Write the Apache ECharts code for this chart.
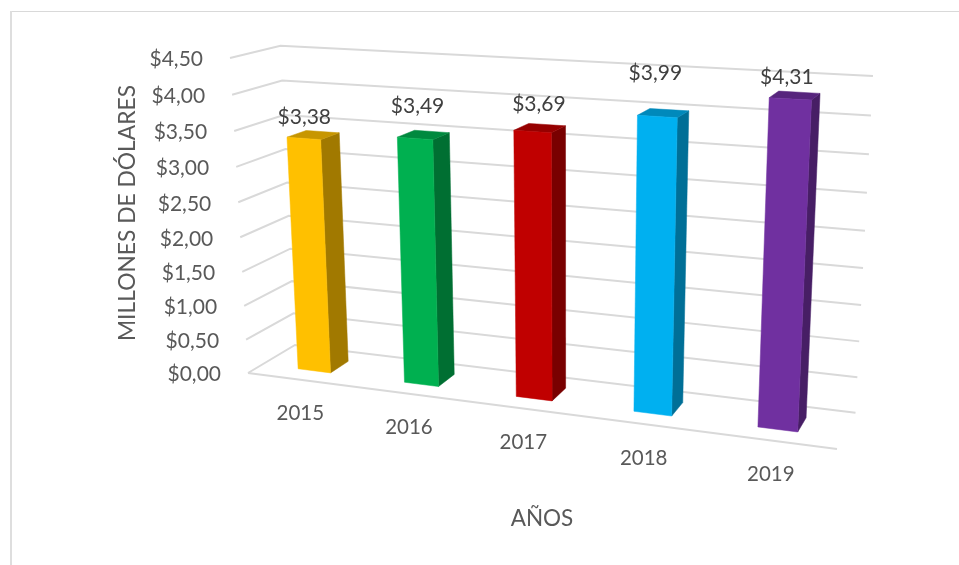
<!DOCTYPE html>
<html><head><meta charset="utf-8"><style>html,body{margin:0;padding:0;background:#fff}#c{width:959px;height:565px}</style>
<script src="https://cdn.jsdelivr.net/npm/echarts@6/dist/echarts.min.js"></script></head>
<body><div id="c"></div>
<script>
const years = ['2015','2016','2017','2018','2019'];
const values = [3.38,3.49,3.69,3.99,4.31];
const valueLabels = ['$3,38','$3,49','$3,69','$3,99','$4,31'];
const barColors = ['#FFC000','#00B050','#C00000','#00B0F0','#7030A0'];
const ticks = [0,0.5,1,1.5,2,2.5,3,3.5,4,4.5];
const tickLabels = ['$0,00','$0,50','$1,00','$1,50','$2,00','$2,50','$3,00','$3,50','$4,00','$4,50'];

// Camera: screen position of the corners of the 3D plot box
const A=[248,373],B=[837,449],C=[295,345],D=[855,413],E=[230,58],F=[280,45],G=[873,76];
function solveCamera(){
  const rows=[],rhs=[];
  for(let k=0;k<2;k++){
    rows.push([0,E[k]-F[k],C[k]-F[k]]);rhs.push(A[k]-F[k]);
    rows.push([B[k]-D[k],0,C[k]-D[k]]);rhs.push(A[k]-D[k]);
    rows.push([B[k]-G[k],E[k]-G[k],C[k]-G[k]]);rhs.push(2*A[k]-2*G[k]);
  }
  const M=[[0,0,0,0],[0,0,0,0],[0,0,0,0]];
  rows.forEach((r,n)=>{for(let i=0;i<3;i++){for(let j=0;j<3;j++)M[i][j]+=r[i]*r[j];M[i][3]+=r[i]*rhs[n];}});
  for(let i=0;i<3;i++){
    let p=i;for(let r=i+1;r<3;r++)if(Math.abs(M[r][i])>Math.abs(M[p][i]))p=r;
    [M[i],M[p]]=[M[p],M[i]];
    for(let r=0;r<3;r++)if(r!==i){const f=M[r][i]/M[i][i];for(let c=i;c<4;c++)M[r][c]-=f*M[i][c];}
  }
  return [M[0][3]/M[0][0],M[1][3]/M[1][1],M[2][3]/M[2][2]];
}
const [al,be,ga]=solveCamera();
function proj(x,y,z){
  const w=1+x*(al-1)+y*(be-1)+z*(ga-1);
  return [0,1].map(k=>(A[k]+x*(al*B[k]-A[k])+y*(be*E[k]-A[k])+z*(ga*C[k]-A[k]))/w);
}
const BAR_W=0.31, Z_FRONT=0.30, Z_BACK=0.70;
const labelShift=[[-9,-4],[-6,-15],[-1,-10],[-8,-26],[-8,-4]];
const FONT='Lato, "Open Sans", sans-serif';

function shade(hex,f){
  const n=parseInt(hex.slice(1),16);
  return 'rgb('+[n>>16,(n>>8)&255,n&255].map(c=>Math.round(c*f)).join(',')+')';
}
function norm(params,pt){
  const s=params.coordSys;
  return [(pt[0]-s.x)/s.width,(s.y+s.height-pt[1])/s.height];
}
function poly(points,fill){
  return {type:'polygon',shape:{points},style:{fill,stroke:fill,lineWidth:0.5}};
}
function renderGrid(params,api){
  const v=api.value(1);
  const y=norm(params,api.coord([0,v]))[1];
  const children=[{type:'polyline',shape:{points:[proj(0,y,0),proj(0,y,1),proj(1,y,1)]},
    style:{stroke:'#d9d9d9',lineWidth:2,fill:null}}];
  if(v===0)children.push({type:'line',shape:{x1:A[0],y1:A[1],x2:B[0],y2:B[1]},style:{stroke:'#d9d9d9',lineWidth:2}});
  const p=proj(0,y,0);
  children.push({type:'text',style:{x:p[0]-27,y:p[1]+1.5,text:tickLabels[params.dataIndex],fill:'#595959',
    font:'21px '+FONT,align:'right',verticalAlign:'middle'}});
  return {type:'group',children};
}
function renderBars(params,api){
  const i=params.dataIndex,col=barColors[i];
  const c=api.coord([api.value(0),api.value(1)]);
  const band=api.size([1,0])[0]*BAR_W;
  const x0=norm(params,[c[0]-band/2,0])[0],x1=norm(params,[c[0]+band/2,0])[0];
  const y=norm(params,c)[1];
  const f=(x,yy,z)=>proj(x,yy,z);
  const top=f((x0+x1)/2,y,(Z_FRONT+Z_BACK)/2);
  return {type:'group',children:[
    poly([f(x1,0,Z_FRONT),f(x1,0,Z_BACK),f(x1,y,Z_BACK),f(x1,y,Z_FRONT)],shade(col,0.63)),
    poly([f(x0,y,Z_FRONT),f(x1,y,Z_FRONT),f(x1,y,Z_BACK),f(x0,y,Z_BACK)],shade(col,0.78)),
    poly([f(x0,0,Z_FRONT),f(x1,0,Z_FRONT),f(x1,y,Z_FRONT),f(x0,y,Z_FRONT)],col),
    {type:'text',style:{x:top[0]+labelShift[i][0],y:top[1]-14+labelShift[i][1],text:valueLabels[i],fill:'#404040',
      font:'21px '+FONT,align:'center',verticalAlign:'middle'}}
  ]};
}
function renderCats(params,api){
  const c=api.coord([api.value(0),0]);
  const x=norm(params,c)[0];
  const p=proj(x,0,0);
  return {type:'text',style:{x:p[0],y:p[1]+34,text:years[params.dataIndex],fill:'#595959',
    font:'20.5px '+FONT,align:'center',verticalAlign:'middle'}};
}
const chart=echarts.init(document.getElementById('c'));
chart.setOption({
  animation:false,
  grid:{left:100,right:100,top:100,bottom:100,show:false},
  xAxis:{type:'category',data:years,show:false},
  yAxis:{type:'value',min:0,max:4.5,interval:0.5,show:false},
  graphic:[
    {type:'rect',shape:{x:10,y:11,width:949,height:1},style:{fill:'#d9d9d9'},silent:true},
    {type:'rect',shape:{x:10,y:11,width:2,height:554},style:{fill:'#dedede'},silent:true},
    {type:'text',style:{x:128,y:213,text:'MILLONES DE DÓLARES',fill:'#595959',font:'22.8px '+FONT,align:'center',verticalAlign:'middle'},
      rotation:Math.PI/2,originX:128,originY:213,silent:true},
    {type:'text',style:{x:542,y:519,text:'AÑOS',fill:'#595959',font:'22.5px '+FONT,align:'center',verticalAlign:'middle'},silent:true}
  ],
  series:[
    {type:'custom',name:'grid',clip:false,silent:true,z:1,renderItem:renderGrid,data:ticks.map(t=>[0,t]),encode:{x:0,y:1}},
    {type:'custom',name:'cats',clip:false,silent:true,z:1,renderItem:renderCats,data:years.map((y,i)=>[i,0]),encode:{x:0,y:1}},
    {type:'custom',name:'Millones de dólares',clip:false,silent:true,z:2,renderItem:renderBars,data:values.map((v,i)=>[i,v]),encode:{x:0,y:1}}
  ]
});
</script></body></html>
